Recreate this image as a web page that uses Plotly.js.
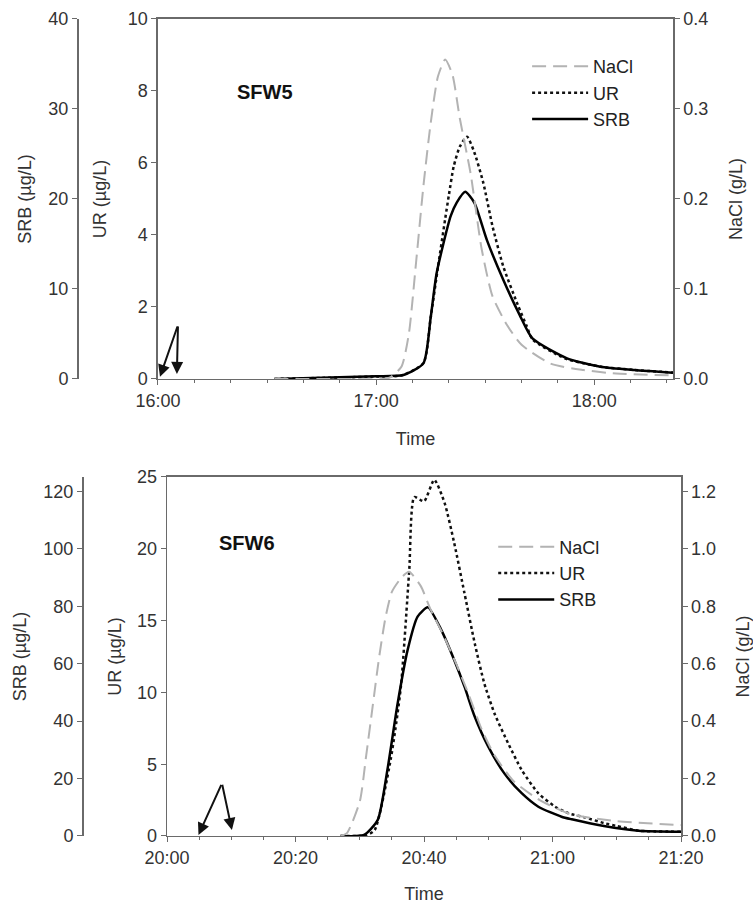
<!DOCTYPE html>
<html>
<head>
<meta charset="utf-8">
<script src="https://cdn.plot.ly/plotly-3.0.1.min.js"></script>
<style>html,body{margin:0;padding:0;background:#fff;}#chart{width:753px;height:908px;}</style>
</head>
<body>
<div id="chart"></div>
<script>
// ---------- SFW5 (top panel) ----------
const day = '2000-01-01 ';
const sfw5NaclTime = ['16:32','16:50','17:02','17:04','17:07','17:09','17:11','17:13','17:15','17:17','17:19','17:21','17:23','17:26','17:29','17:32','17:36','17:40','17:48','17:57','18:06','18:21:40'];
const sfw5Nacl     = [0,0,0,0.002,0.014,0.05,0.13,0.214,0.284,0.336,0.355,0.338,0.29,0.228,0.145,0.092,0.06,0.038,0.017,0.010,0.006,0.004];

const sfw5UrTime = ['16:32','16:45','17:00','17:07','17:13','17:15','17:17','17:19','17:20','17:21:20','17:23','17:25','17:27','17:29:30','17:32','17:35','17:39','17:41:30','17:43','17:52','18:02','18:11','18:21:40'];
const sfw5Ur     = [0,0.03,0.07,0.1,0.44,1.7,3.1,4.45,5.1,5.9,6.45,6.73,6.3,5.44,4.25,3.12,2.05,1.45,1.1,0.57,0.34,0.25,0.18];

const sfw5SrbTime = ['16:32','16:45','17:00','17:07:30','17:13','17:15','17:16:40','17:20:30','17:22:10','17:24:30','17:27','17:30:30','17:35','17:39:30','17:43','17:52:30','18:01:40','18:11','18:21:40'];
const sfw5Srb     = [0,0.15,0.3,0.44,1.74,6.8,11.8,18.1,19.6,20.8,19.6,15.4,11.0,7.1,4.5,2.3,1.37,1.0,0.7];

// ---------- SFW6 (bottom panel) ----------
const sfw6NaclTime = ['20:27','20:28','20:30','20:31','20:32','20:33','20:34','20:35','20:36:30','20:37:40','20:39:30','20:41','20:43','20:45','20:47','20:49','20:51','20:54','20:58','21:03','21:10','21:20'];
const sfw6Nacl     = [0,0.01,0.12,0.28,0.45,0.62,0.76,0.85,0.9,0.92,0.87,0.79,0.70,0.60,0.49,0.37,0.28,0.19,0.125,0.075,0.052,0.038];

const sfw6UrTime = ['20:27','20:31','20:32:18','20:34:48','20:36:24','20:37:42','20:38:30','20:40','20:41:36','20:43:12','20:44:42','20:46:18','20:47:54','20:49:24','20:51','20:53:06','20:55:12','20:57:48','21:00:24','21:02:30','21:05','21:08','21:10','21:13:24','21:20'];
const sfw6Ur     = [0,0.05,0.4,5.3,10.4,18.5,23.6,23.3,24.8,23.2,20.4,16.9,13.4,10.6,8.5,6.45,4.6,2.97,2.04,1.58,1.3,0.9,0.7,0.37,0.3];

const sfw6SrbTime = ['20:27','20:30:40','20:32:48','20:34:18','20:35:54','20:37:27','20:39','20:40:36','20:42:42','20:44:42','20:46:18','20:47:54','20:50','20:52:30','20:55:12','20:57:48','21:01:24','21:03','21:08','21:13:24','21:20'];
const sfw6Srb     = [0,0.35,5.6,23,46.2,64.8,76.4,79.6,71.7,61.3,52.0,41.5,31.1,21.8,14.9,10.2,6.7,5.8,3.5,1.85,1.5];

// injection arrows: [apex time, apex UR, head time, head UR]
const sfw5Arrows = [['16:05:30',1.5,'16:00:33',0.06],['16:05:30',1.5,'16:05:12',0.14]];
const sfw6Arrows = [['20:08:33',3.67,'20:04:54',0.07],['20:08:33',3.67,'20:10:06',0.42]];

const seriesNames = ['NaCl','UR','SRB'];
const panelLabels = ['SFW5','SFW6'];

const T = a => a.map(s => day + s);

const naclLine = {color:'#b3b3b3', width:2, dash:'14px,7px', shape:'spline', smoothing:0.6};
const urLine   = {color:'#111', width:2.5, dash:'dot', shape:'spline', smoothing:0.6};
const srbLine  = {color:'#000', width:2.5, shape:'spline', smoothing:0.6};

const data = [
  {x:T(sfw5NaclTime), y:sfw5Nacl, xaxis:'x', yaxis:'y3', mode:'lines', name:seriesNames[0], line:naclLine, legend:'legend'},
  {x:T(sfw5UrTime),   y:sfw5Ur,   xaxis:'x', yaxis:'y',  mode:'lines', name:seriesNames[1], line:urLine, legend:'legend'},
  {x:T(sfw5SrbTime),  y:sfw5Srb,  xaxis:'x', yaxis:'y2', mode:'lines', name:seriesNames[2], line:srbLine, legend:'legend'},
  {x:T(sfw6NaclTime), y:sfw6Nacl, xaxis:'x2', yaxis:'y6', mode:'lines', name:seriesNames[0], line:naclLine, legend:'legend2'},
  {x:T(sfw6UrTime),   y:sfw6Ur,   xaxis:'x2', yaxis:'y4', mode:'lines', name:seriesNames[1], line:urLine, legend:'legend2'},
  {x:T(sfw6SrbTime),  y:sfw6Srb,  xaxis:'x2', yaxis:'y5', mode:'lines', name:seriesNames[2], line:srbLine, legend:'legend2'}
];

const axCol = '#6a6a6a';
const tickFont = {size:18, color:'#333'};
const baseY = {showline:true, linecolor:axCol, linewidth:1.5, ticks:'outside', ticklen:5, tickcolor:axCol,
               showgrid:false, zeroline:false, tickfont:tickFont, fixedrange:true};
const baseX = Object.assign({}, baseY, {type:'date', tickformat:'%H:%M', mirror:true});

const layout = {
  width:753, height:908,
  margin:{l:0, r:0, t:0, b:0},
  paper_bgcolor:'#fff', plot_bgcolor:'#fff',
  font:{family:'Liberation Sans, Arial, sans-serif', size:18, color:'#333'},
  showlegend:true,
  xaxis: Object.assign({}, baseX, {domain:[0.2098,0.8938], anchor:'y',
    range:[day+'16:00', day+'18:21:40'], tick0:day+'16:00', dtick:3600000,
    minor:{dtick:600000, ticks:'outside', ticklen:3, tickcolor:axCol},
    title:{text:'Time', font:{size:18}, standoff:22}}),
  yaxis: Object.assign({}, baseY, {domain:[0.5826,0.9791], anchor:'x', range:[0,10], dtick:2,
    title:{text:'UR (µg/L)', font:{size:18}, standoff:16}}),
  yaxis2: Object.assign({}, baseY, {overlaying:'y', anchor:'free', position:77/753, side:'left', range:[0,40], dtick:10,
    title:{text:'SRB (µg/L)', font:{size:18}, standoff:10}}),
  yaxis3: Object.assign({}, baseY, {overlaying:'y', anchor:'x', side:'right', range:[0,0.4], dtick:0.1, tickformat:'.1f',
    title:{text:'NaCl (g/L)', font:{size:18}, standoff:22}}),
  xaxis2: Object.assign({}, baseX, {domain:[0.2218,0.9044], anchor:'y4',
    range:[day+'20:00', day+'21:20'], tick0:day+'20:00', dtick:1200000,
    minor:{dtick:300000, ticks:'outside', ticklen:3, tickcolor:axCol},
    title:{text:'Time', font:{size:18}, standoff:20}}),
  yaxis4: Object.assign({}, baseY, {domain:[0.0793,0.4747], anchor:'x2', range:[0,25], dtick:5,
    title:{text:'UR (µg/L)', font:{size:18}, standoff:10}}),
  yaxis5: Object.assign({}, baseY, {overlaying:'y4', anchor:'free', position:82/753, side:'left', range:[0,125], dtick:20,
    title:{text:'SRB (µg/L)', font:{size:18}, standoff:10}}),
  yaxis6: Object.assign({}, baseY, {overlaying:'y4', anchor:'x2', side:'right', range:[0,1.25], dtick:0.2, tickformat:'.1f',
    title:{text:'NaCl (g/L)', font:{size:18}, standoff:22}}),
  legend: {x:0.70, y:0.947, xanchor:'left', yanchor:'top', bgcolor:'rgba(0,0,0,0)', font:{size:18, color:'#222'},
           itemwidth:56, tracegroupgap:0},
  legend2:{x:0.655, y:0.418, xanchor:'left', yanchor:'top', bgcolor:'rgba(0,0,0,0)', font:{size:18, color:'#222'},
           itemwidth:56, tracegroupgap:0},
  annotations: []
};

layout.annotations.push({xref:'paper', yref:'paper', x:0.312, y:0.899, xanchor:'left', yanchor:'middle',
  text:'<b>'+panelLabels[0]+'</b>', showarrow:false, font:{size:20, color:'#111'}});
layout.annotations.push({xref:'paper', yref:'paper', x:0.288, y:0.402, xanchor:'left', yanchor:'middle',
  text:'<b>'+panelLabels[1]+'</b>', showarrow:false, font:{size:20, color:'#111'}});

sfw5Arrows.forEach(a => layout.annotations.push({xref:'x', yref:'y', axref:'x', ayref:'y',
  x:day+a[2], y:a[3], ax:day+a[0], ay:a[1], text:'', showarrow:true, arrowhead:2, arrowsize:1.2, arrowwidth:2, arrowcolor:'#111'}));
sfw6Arrows.forEach(a => layout.annotations.push({xref:'x2', yref:'y4', axref:'x2', ayref:'y4',
  x:day+a[2], y:a[3], ax:day+a[0], ay:a[1], text:'', showarrow:true, arrowhead:2, arrowsize:1.2, arrowwidth:2, arrowcolor:'#111'}));

Plotly.newPlot('chart', data, layout, {staticPlot:true, displayModeBar:false});
</script>
</body>
</html>
